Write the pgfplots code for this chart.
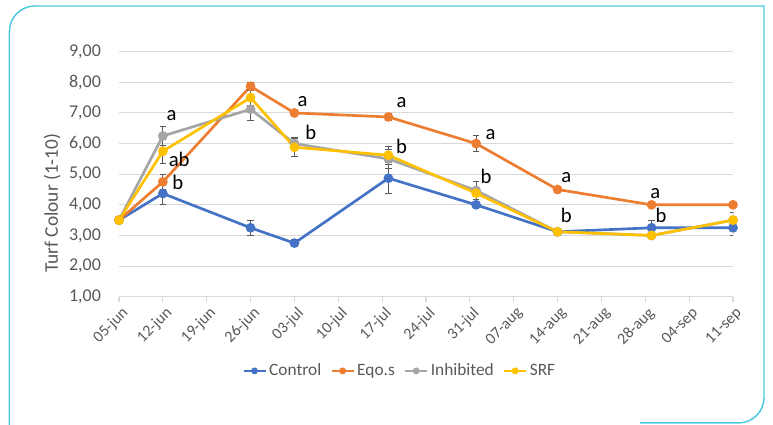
\documentclass[border=0pt]{standalone}
\usepackage{pgfplots}
\pgfplotsset{compat=1.18}
\usepackage{fontspec}
\setmainfont{Carlito}
\definecolor{cControl}{HTML}{4472C4}
\definecolor{cEqo}{HTML}{ED7D31}
\definecolor{cInh}{HTML}{A5A5A5}
\definecolor{cSRF}{HTML}{FFC000}
\definecolor{txt}{HTML}{595959}
\definecolor{gridc}{HTML}{D9D9D9}
\definecolor{framec}{HTML}{4CC9E0}
\pgfplotsset{
  errs/.style={
    error bars/y dir=both, error bars/y explicit,
    error bars/error bar style={color=black!65, line width=0.6pt},
    error bars/error mark options={rotate=90, mark size=2.4pt, line width=0.6pt, color=black!65},
  }
}
\begin{document}
\begin{tikzpicture}
\useasboundingbox (0,0) rectangle (579.75pt,318pt);
\draw[color=framec, line width=1.1pt] (7.1pt,-10pt) -- (7.1pt,294.5pt) arc[start angle=180,end angle=90,radius=19pt] -- (573pt,313.5pt) -- (573pt,19.8pt) arc[start angle=0,end angle=-90,radius=19pt] -- (480pt,0.8pt);
\begin{axis}[
  at={(89.25pt,95.475pt)}, anchor=south west,
  width=460.5pt, height=183.75pt, scale only axis,
  xmin=0, xmax=98, ymin=1, ymax=9,
  xtick={0,7,...,98},
  xticklabels={05-jun,12-jun,19-jun,26-jun,03-jul,10-jul,17-jul,24-jul,31-jul,07-aug,14-aug,21-aug,28-aug,04-sep,11-sep},
  ytick={1,2,...,9},
  axis y line*=left, y axis line style={draw=none},
  axis x line*=bottom, x axis line style={color=gridc, line width=0.8pt},
  ymajorgrids, grid style={color=gridc, line width=0.8pt},
  major y tick style={draw=none},
  major x tick style={color=gridc, line width=0.8pt},
  tick align=outside, major tick length=4pt,
  x tick label style={rotate=45, anchor=north east, font=\fontsize{12}{12}\selectfont, text=txt, inner sep=1pt, yshift=-2pt},
  y tick label style={font=\fontsize{13.5}{13.5}\selectfont, text=txt, xshift=-6pt},
  /pgf/number format/assume math mode=true,
  yticklabel style={/pgf/number format/.cd, fixed, fixed zerofill, precision=2, use comma},
  ylabel={Turf Colour (1-10)},
  ylabel style={at={(axis description cs:-0.109,0.382)}, anchor=center, rotate=0, font=\fontsize{14.5}{14.5}\selectfont, text=txt},
  legend columns=4,
  legend style={at={(axis description cs:0.458,-0.303)}, anchor=center, draw=none, fill=none,
    font=\fontsize{13}{13}\selectfont, text=txt,
    /tikz/every even column/.append style={column sep=5pt}},
  legend image code/.code={
    \draw[#1, line width=1.5pt, mark size=1.8pt, mark repeat=2, mark phase=2] plot coordinates {(0pt,0pt) (8.25pt,0pt) (16.5pt,0pt)};
  },
  every axis plot/.append style={line width=2pt, mark=*, mark size=2.6pt},
]
\addplot[color=cControl, mark options={fill=cControl}, errs] coordinates {
 (0,3.5) +- (0,0)
 (7,4.37) +- (0,0.37)
 (21,3.25) +- (0,0.25)
 (28,2.75) +- (0,0.12)
 (43,4.87) +- (0,0.5)
 (57,4.0) +- (0,0.05)
 (70,3.12) +- (0,0.08)
 (85,3.25) +- (0,0.25)
 (98,3.25) +- (0,0.25)
};
\addlegendentry{Control}
\addplot[color=cEqo, mark options={fill=cEqo}, errs] coordinates {
 (0,3.5) +- (0,0)
 (7,4.75) +- (0,0.25)
 (21,7.87) +- (0,0.12)
 (28,7.0) +- (0,0.04)
 (43,6.87) +- (0,0.1)
 (57,6.0) +- (0,0.27)
 (70,4.5) +- (0,0.03)
 (85,4.0) +- (0,0.03)
 (98,4.0) +- (0,0.03)
};
\addlegendentry{Eqo.s}
\addplot[color=cInh, mark options={fill=cInh}, errs] coordinates {
 (0,3.5) +- (0,0)
 (7,6.25) +- (0,0.32)
 (21,7.12) +- (0,0.37)
 (28,6.0) +- (0,0.2)
 (43,5.5) +- (0,0.3)
 (57,4.47) +- (0,0.3)
 (70,3.12) +- (0,0.08)
 (85,3.0) +- (0,0.05)
 (98,3.5) +- (0,0.25)
};
\addlegendentry{Inhibited}
\addplot[color=cSRF, mark options={fill=cSRF}, errs] coordinates {
 (0,3.5) +- (0,0)
 (7,5.75) +- (0,0.4)
 (21,7.5) +- (0,0.25)
 (28,5.88) +- (0,0.3)
 (43,5.62) +- (0,0.3)
 (57,4.38) +- (0,0.2)
 (70,3.12) +- (0,0.05)
 (85,3.0) +- (0,0.05)
 (98,3.5) +- (0,0.25)
};
\addlegendentry{SRF}
\begin{scope}[every node/.style={font=\fontsize{15.5}{15.5}\selectfont, text=black, inner sep=0pt, anchor=center}]
\node at (axis cs:8.4,6.93) {a};
\node at (axis cs:9.6,5.47) {ab};
\node at (axis cs:9.4,4.72) {b};
\node at (axis cs:29.3,7.37) {a};
\node at (axis cs:30.6,6.36) {b};
\node at (axis cs:45.1,7.33) {a};
\node at (axis cs:45.1,5.9) {b};
\node at (axis cs:59.3,6.28) {a};
\node at (axis cs:58.6,4.92) {b};
\node at (axis cs:71.4,4.89) {a};
\node at (axis cs:71.4,3.67) {b};
\node at (axis cs:85.6,4.38) {a};
\node at (axis cs:86.5,3.67) {b};
\end{scope}
\end{axis}
\end{tikzpicture}
\end{document}
